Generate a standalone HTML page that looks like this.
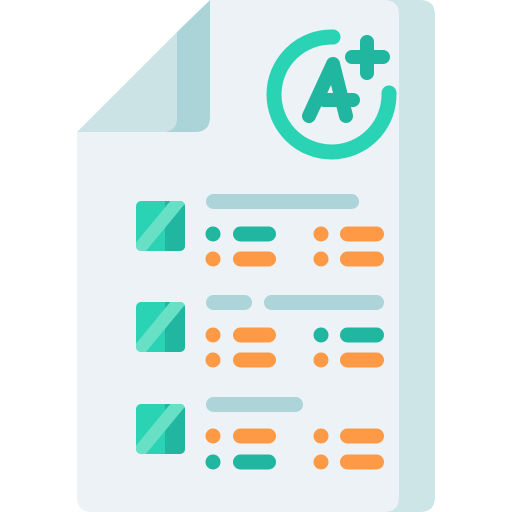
<!DOCTYPE html>
<html><head><style>html,body{margin:0;padding:0;background:#fff}svg{display:block}</style></head>
<body>
<svg width="512" height="512" viewBox="0 0 512 512" xmlns="http://www.w3.org/2000/svg">
<defs>
<clipPath id="c1"><rect x="136" y="201" width="49" height="50" rx="5"/></clipPath>
<clipPath id="c2"><rect x="136" y="302" width="49" height="50" rx="5"/></clipPath>
<clipPath id="c3"><rect x="136" y="404" width="49" height="50" rx="5"/></clipPath>
</defs>
<!-- back strip -->
<path d="M300,0 H420 Q435,0 435,15 V497 Q435,512 420,512 H300 Z" fill="#cde5e6"/>
<!-- main sheet -->
<path d="M210,0 H384 Q399,0 399,15 V497 Q399,512 384,512 H92 Q77,512 77,497 V132 Z" fill="#ecf2f5"/>
<!-- fold -->
<path d="M177,32 L210,0 V117 Q210,132 195,132 H162 Q177,132 177,117 Z" fill="#abd4d9"/>
<path d="M77,132 L177,32 V117 Q177,132 162,132 Z" fill="#cbe3e5"/>
<!-- A+ ring -->
<path d="M333,37 A57.5,57.5 0 1 0 389,93" fill="none" stroke="#29d3b4" stroke-width="15" stroke-linecap="round"/>
<g stroke="#20b69f" stroke-width="14" stroke-linecap="round" stroke-linejoin="round" fill="none">
<path d="M309,116 L333,64 L346,116"/>
<path d="M324,100 L353,100"/>
<path d="M367,42 V73 M352,57 H383"/>
</g>
<!-- checkboxes -->
<g>
<g clip-path="url(#c1)"><rect x="136" y="201" width="49" height="50" fill="#29d3b4"/><rect x="165" y="201" width="20" height="50" fill="#20b69f"/><line x1="196" y1="180" x2="126" y2="265" stroke="#67e0c6" stroke-width="13"/></g>
<g clip-path="url(#c2)"><rect x="136" y="302" width="49" height="50" fill="#29d3b4"/><rect x="165" y="302" width="20" height="50" fill="#20b69f"/><line x1="196" y1="281" x2="126" y2="366" stroke="#67e0c6" stroke-width="13"/></g>
<g clip-path="url(#c3)"><rect x="136" y="404" width="49" height="50" fill="#29d3b4"/><rect x="165" y="404" width="20" height="50" fill="#20b69f"/><line x1="196" y1="383" x2="126" y2="468" stroke="#67e0c6" stroke-width="13"/></g>
</g>
<!-- header bars -->
<g fill="#acd4d9">
<rect x="206" y="194" width="153" height="15" rx="7.5"/>
<rect x="206" y="295" width="46" height="15" rx="7.5"/>
<rect x="264" y="295" width="120" height="15" rx="7.5"/>
<rect x="206" y="397" width="97" height="15" rx="7.5"/>
</g>
<!-- rows -->
<g>
<!-- row1 -->
<circle cx="213" cy="234" r="7.5" fill="#20b69f"/><rect x="233" y="226.5" width="43" height="15" rx="7.5" fill="#20b69f"/>
<circle cx="321" cy="234" r="7.5" fill="#fe9a46"/><rect x="340" y="226.5" width="44" height="15" rx="7.5" fill="#fe9a46"/>
<circle cx="213" cy="259" r="7.5" fill="#fe9a46"/><rect x="233" y="251.5" width="43" height="15" rx="7.5" fill="#fe9a46"/>
<circle cx="321" cy="259" r="7.5" fill="#fe9a46"/><rect x="340" y="251.5" width="44" height="15" rx="7.5" fill="#fe9a46"/>
<!-- row2 -->
<circle cx="213" cy="335" r="7.5" fill="#fe9a46"/><rect x="233" y="327.5" width="43" height="15" rx="7.5" fill="#fe9a46"/>
<circle cx="321" cy="335" r="7.5" fill="#20b69f"/><rect x="340" y="327.5" width="44" height="15" rx="7.5" fill="#20b69f"/>
<circle cx="213" cy="360" r="7.5" fill="#fe9a46"/><rect x="233" y="352.5" width="43" height="15" rx="7.5" fill="#fe9a46"/>
<circle cx="321" cy="360" r="7.5" fill="#fe9a46"/><rect x="340" y="352.5" width="44" height="15" rx="7.5" fill="#fe9a46"/>
<!-- row3 -->
<circle cx="213" cy="436" r="7.5" fill="#fe9a46"/><rect x="233" y="428.5" width="43" height="15" rx="7.5" fill="#fe9a46"/>
<circle cx="321" cy="436" r="7.5" fill="#fe9a46"/><rect x="340" y="428.5" width="44" height="15" rx="7.5" fill="#fe9a46"/>
<circle cx="213" cy="462" r="7.5" fill="#20b69f"/><rect x="233" y="454.5" width="43" height="15" rx="7.5" fill="#20b69f"/>
<circle cx="321" cy="462" r="7.5" fill="#fe9a46"/><rect x="340" y="454.5" width="44" height="15" rx="7.5" fill="#fe9a46"/>
</g>
</svg>
</body></html>
